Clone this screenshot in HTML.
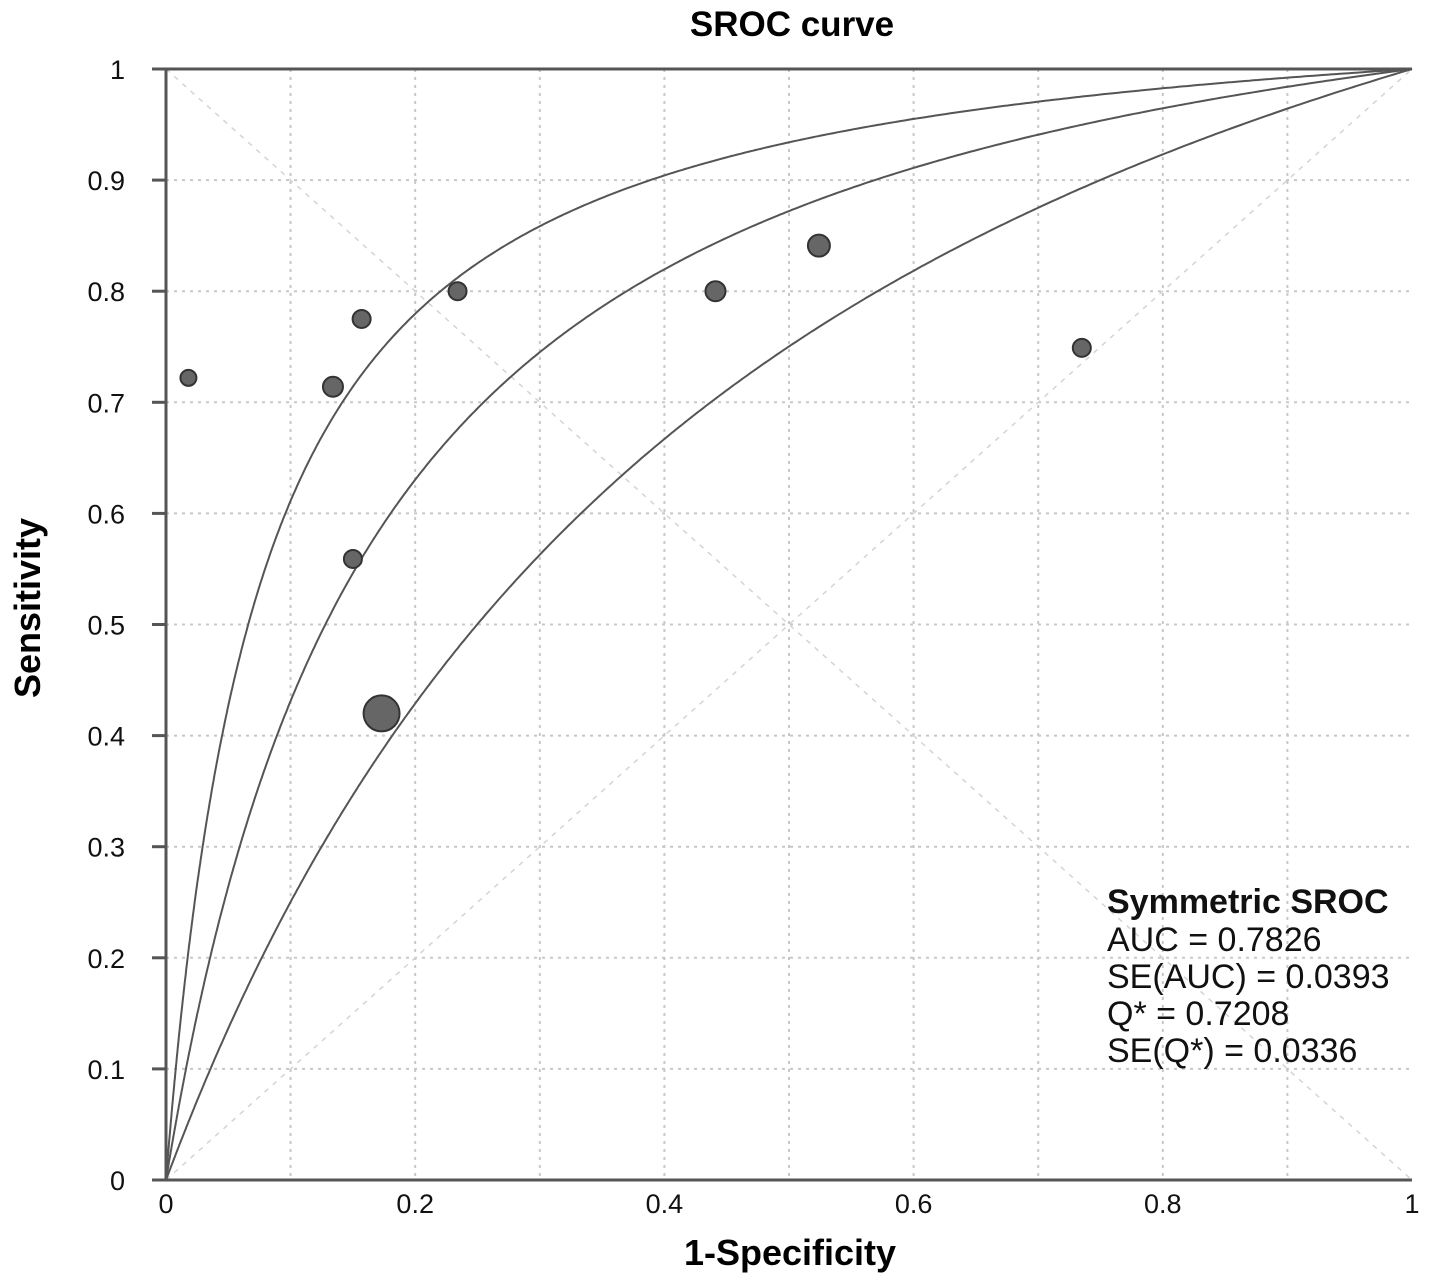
<!DOCTYPE html>
<html><head><style>body{margin:0;background:#fff}svg{display:block}</style></head>
<body>
<svg id="s" width="1437" height="1285" xmlns="http://www.w3.org/2000/svg" font-family="Liberation Sans, Arial, sans-serif">
<rect width="1437" height="1285" fill="#fff"/>
<g id="grid" stroke="#c8c8c8" stroke-width="2" stroke-dasharray="3,5"></g>
<g stroke="#d4d4d4" stroke-width="1.5" stroke-dasharray="5,6">
<line x1="166" y1="69" x2="1412" y2="1180"/>
<line x1="166" y1="1180" x2="1412" y2="69"/>
</g>
<g id="curves" fill="none" stroke="#555" stroke-width="2"></g>
<g id="pts" fill="#666" stroke="#333" stroke-width="2"></g>
<g stroke="#555" stroke-width="3" id="axes">
<line x1="166" y1="69" x2="166" y2="1180"/>
<line x1="152" y1="69" x2="1412" y2="69"/>
<line x1="152" y1="1180" x2="1412" y2="1180"/>
</g>
<g id="labels" font-size="27" fill="#111"></g>
<text x="792" y="36" font-size="35" font-weight="bold" text-anchor="middle">SROC curve</text>
<text x="790" y="1265" font-size="36" font-weight="bold" text-anchor="middle">1-Specificity</text>
<text transform="translate(40,608) rotate(-90)" font-size="36" font-weight="bold" text-anchor="middle">Sensitivity</text>
<g font-size="34" fill="#111">
<text x="1107" y="913" font-weight="bold">Symmetric SROC</text>
<text x="1107" y="951">AUC = 0.7826</text>
<text x="1107" y="988">SE(AUC) = 0.0393</text>
<text x="1107" y="1025">Q* = 0.7208</text>
<text x="1107" y="1062">SE(Q*) = 0.0336</text>
</g>
</svg>
<script>
var NS="http://www.w3.org/2000/svg";
function X(v){return 166+1246*v}function Y(v){return 1180-1111*v}
function el(p,t,a){var e=document.createElementNS(NS,t);for(var k in a)e.setAttribute(k,a[k]);document.getElementById(p).appendChild(e);return e}
for(var i=1;i<10;i++){el("grid","line",{x1:X(i/10),y1:69,x2:X(i/10),y2:1180});el("grid","line",{x1:166,y1:Y(i/10),x2:1412,y2:Y(i/10)});
el("axes","line",{x1:152,y1:Y(i/10),x2:166,y2:Y(i/10)});}
for(var i=0;i<=10;i++){var t=el("labels","text",{x:125,y:Y(i/10)+10,"text-anchor":"end"});t.textContent=i==0?"0":i==10?"1":(i/10).toFixed(1);}
[0,0.2,0.4,0.6,0.8,1].forEach(function(v){var t=el("labels","text",{x:X(v),y:1213,"text-anchor":"middle"});t.textContent=v==0?"0":v==1?"1":v.toFixed(1);});
[2.65,1.92,1.1].forEach(function(D){var d="M166,1180";for(var i=1;i<=600;i++){var f=Math.pow(i/600,2.2);var l=Math.log(f/(1-f))+D;var s=1/(1+Math.exp(-l));if(i==600){f=1;s=1}d+=" L"+X(f).toFixed(1)+","+Y(s).toFixed(1);}el("curves","path",{d:d});});
[[0.018,0.722,8],[0.134,0.714,10],[0.157,0.775,9],[0.15,0.559,9],[0.173,0.42,18],[0.234,0.8,9],[0.441,0.8,10],[0.524,0.841,11],[0.735,0.749,9]].forEach(function(p){el("pts","circle",{cx:X(p[0]),cy:Y(p[1]),r:p[2]});});
</script>
</body></html>
